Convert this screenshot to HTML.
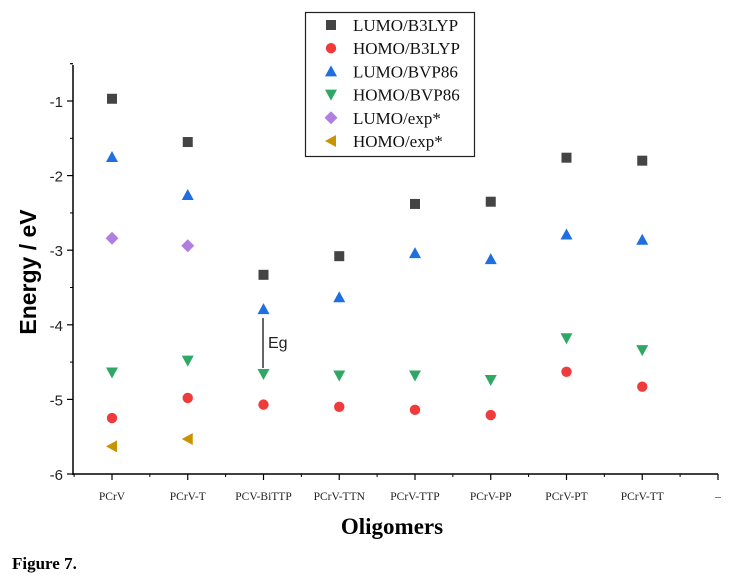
<!DOCTYPE html>
<html><head><meta charset="utf-8"><style>
body{margin:0;background:#fff;}
svg{display:block;}
</style></head><body>
<svg id="chart" width="740" height="586" xmlns="http://www.w3.org/2000/svg">
<text x="12" y="569" font-family="Liberation Serif, serif" font-weight="bold" font-size="17">Figure 7.</text>
</svg>
<script>
const categories=["PCrV","PCrV-T","PCV-BiTTP","PCrV-TTN","PCrV-TTP","PCrV-PP","PCrV-PT","PCrV-TT","–"];
const lumoB3LYP=[-0.97,-1.55,-3.33,-3.08,-2.38,-2.35,-1.76,-1.80];
const homoB3LYP=[-5.25,-4.98,-5.07,-5.10,-5.14,-5.21,-4.63,-4.83];
const lumoBVP86=[-1.75,-2.26,-3.79,-3.63,-3.04,-3.12,-2.79,-2.86];
const homoBVP86=[-4.64,-4.48,-4.66,-4.68,-4.68,-4.74,-4.18,-4.34];
const lumoExp=[-2.84,-2.94];
const homoExp=[-5.63,-5.53];
const yTicks=[-1,-2,-3,-4,-5,-6];
const ns="http://www.w3.org/2000/svg";
const svg=document.getElementById('chart');
const X0=73,X1=718,Ytop=65,Ybot=474;
function xs(i){return 112+i*75.75;}
function ys(v){return 101+(-1-v)*74.6;}
function mk(tag,attrs,parent){const e=document.createElementNS(ns,tag);for(const k in attrs)e.setAttribute(k,attrs[k]);(parent||svg).appendChild(e);return e;}
// axes
let ax=mk('line',{x1:X0,y1:Ytop,x2:X0,y2:Ybot+1,stroke:'#000','stroke-width':1.5});


let bx=mk('line',{x1:X0,y1:Ybot,x2:X1,y2:Ybot,stroke:'#000','stroke-width':1.5});


yTicks.forEach(v=>{
  mk('line',{x1:X0-6,y1:ys(v),x2:X0,y2:ys(v),stroke:'#000','stroke-width':1.2});
  if(v>-6)mk('line',{x1:X0-3,y1:ys(v+0.5),x2:X0,y2:ys(v+0.5),stroke:'#000','stroke-width':1});
  const t=mk('text',{x:X0-10,y:ys(v)+6,'text-anchor':'end','font-family':'Liberation Sans, sans-serif','font-size':15,fill:'#222'});
  t.textContent=String(v);
  
  
});
mk('line',{x1:X0-3,y1:ys(-0.5),x2:X0,y2:ys(-0.5),stroke:'#000','stroke-width':1});
categories.forEach((c,i)=>{
  const x=xs(i);
  mk('line',{x1:x,y1:Ybot,x2:x,y2:Ybot+6,stroke:'#000','stroke-width':1.2});
  mk('line',{x1:x-37.9,y1:Ybot,x2:x-37.9,y2:Ybot+3,stroke:'#000','stroke-width':1});
  const t=mk('text',{x:x,y:Ybot+26,'text-anchor':'middle','font-family':'Liberation Serif, serif','font-size':11.5,fill:'#222'});
  t.textContent=c;
  
  
});
let xl=mk('text',{x:392,y:534,'text-anchor':'middle','font-family':'Liberation Serif, serif','font-weight':'bold','font-size':23});
xl.textContent='Oligomers';


let yl=mk('text',{x:0,y:0,'text-anchor':'middle','font-family':'Liberation Sans, sans-serif','font-weight':'bold','font-size':23,transform:'translate(36,272) rotate(-90)'});
yl.textContent='Energy / eV';


// markers
function marker(type,x,y,color,g){
  const s=6;
  if(type==='sq')return mk('rect',{x:x-5,y:y-5,width:10,height:10,fill:color},g);
  if(type==='ci')return mk('circle',{cx:x,cy:y,r:5.2,fill:color},g);
  if(type==='up')return mk('polygon',{points:`${x},${y-s} ${x-s},${y+5} ${x+s},${y+5}`,fill:color},g);
  if(type==='dn')return mk('polygon',{points:`${x},${y+s} ${x-s},${y-5} ${x+s},${y-5}`,fill:color},g);
  if(type==='di')return mk('polygon',{points:`${x},${y-6.5} ${x+6.5},${y} ${x},${y+6.5} ${x-6.5},${y}`,fill:color},g);
  if(type==='lt')return mk('polygon',{points:`${x-6},${y} ${x+5},${y-6} ${x+5},${y+6}`,fill:color},g);
}
const series=[
  ['LUMO/B3LYP',lumoB3LYP,'sq','#444','series-lumo-b3lyp'],
  ['HOMO/B3LYP',homoB3LYP,'ci','#ef3b3b','series-homo-b3lyp'],
  ['LUMO/BVP86',lumoBVP86,'up','#1f6fe0','series-lumo-bvp86'],
  ['HOMO/BVP86',homoBVP86,'dn','#2fa866','series-homo-bvp86'],
  ['LUMO/exp*',lumoExp,'di','#b07ee0','series-lumo-exp'],
  ['HOMO/exp*',homoExp,'lt','#c99200','series-homo-exp']
];
series.forEach(([name,vals,type,color,dn])=>{
  const g=mk('g',{});
  
  
  vals.forEach((v,i)=>{
    const m=marker(type,xs(i),ys(v),color,g);
    
    
  });
});
// Eg annotation
let eg=mk('line',{x1:263,y1:318,x2:263,y2:368,stroke:'#000','stroke-width':1.2});


let egt=mk('text',{x:268,y:348,'font-family':'Liberation Sans, sans-serif','font-size':16,fill:'#222'});
egt.textContent='Eg';


// legend
const lg=mk('g',{});


mk('rect',{x:305.5,y:12.5,width:169,height:144,fill:'#fff',stroke:'#222','stroke-width':1.2},lg);
series.forEach(([name,vals,type,color],i)=>{
  const y=25+i*23.2;
  const e=mk('g',{},lg);
  
  
  marker(type,331,y,color,e);
  const t=mk('text',{x:353,y:y+6,'font-family':'Liberation Serif, serif','font-size':17,fill:'#111'},e);
  t.textContent=name;
});
</script>
</body></html>
